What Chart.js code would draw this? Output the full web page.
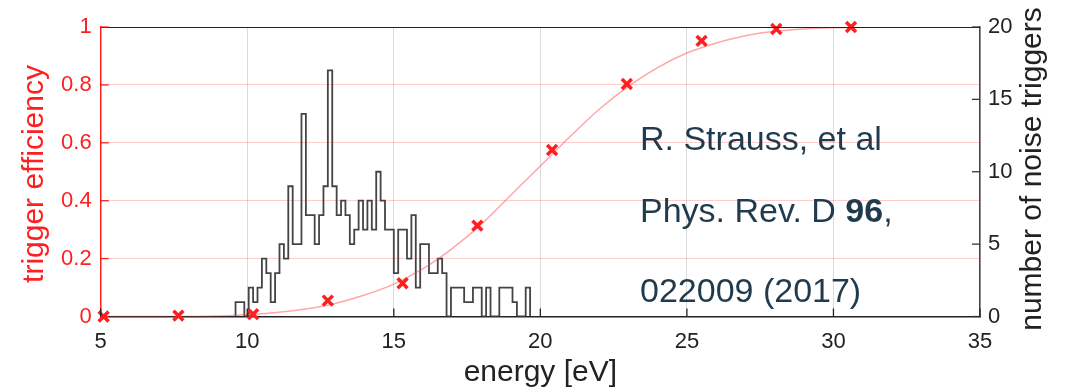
<!DOCTYPE html>
<html>
<head>
<meta charset="utf-8">
<script src="https://cdn.jsdelivr.net/npm/chart.js@4"></script>
<style>
  html, body { margin: 0; padding: 0; background: #ffffff; }
  #wrap { width: 1066px; height: 387px; }
</style>
</head>
<body>
<div id="wrap"><canvas id="c" width="1066" height="387"></canvas></div>
<script>
// ── DATA ────────────────────────────────────────────────────
// measured trigger efficiency (red crosses)
const effEnergy = [5.1, 7.65, 10.2, 12.75, 15.3, 17.85, 20.4, 22.95, 25.5, 28.05, 30.6];
const effValue  = [0, 0.003, 0.008, 0.055, 0.115, 0.314, 0.575, 0.803, 0.952, 0.993, 1.0];

// fitted efficiency curve (light red line)
const fitEnergy = [5, 7.5, 9, 10, 11, 12, 13, 14, 15, 16, 17, 18, 19, 20, 21, 22, 23, 24, 25, 26, 27, 28, 29, 30, 32, 35];
const fitValue  = [0, 0, 0.002, 0.006, 0.014, 0.026, 0.045, 0.074, 0.112, 0.165, 0.235, 0.32, 0.42, 0.52, 0.62, 0.715, 0.795, 0.86, 0.91, 0.945, 0.97, 0.985, 0.993, 0.997, 1, 1];

// noise trigger histogram (gray steps), bins of 0.15 eV from 9.6 eV
const histStart = 9.6;
const histWidth = 0.15;
const histCounts = [1, 1, 0, 2, 1, 2, 4, 3, 1, 3, 5, 4, 9, 5, 5, 14, 7, 7, 5, 7, 9, 17, 9, 7, 8, 7, 5, 6, 8, 6,
                    8, 6, 10, 8, 6, 6, 3, 6, 6, 4, 7, 2, 5, 5, 3, 3, 4, 3, 0, 2, 2, 2, 1, 1, 2, 2, 0, 2, 0, 0,
                    2, 2, 2, 1, 0, 0, 2];

const xTicks  = [5, 10, 15, 20, 25, 30, 35];
const yTicks  = [0, 0.2, 0.4, 0.6, 0.8, 1];
const y2Ticks = [0, 5, 10, 15, 20];

const refLines = ["R. Strauss, et al", "Phys. Rev. D ", "022009 (2017)"];

// ── BUILD POINTS ────────────────────────────────────────────
const histPoints = [{ x: histStart, y: 0 }];
histCounts.forEach((n, i) => histPoints.push({ x: histStart + i * histWidth, y: n }));
histPoints.push({ x: histStart + histCounts.length * histWidth, y: 0 });

const effPoints = effEnergy.map((e, i) => ({ x: e, y: effValue[i] }));
const fitPoints = fitEnergy.map((e, i) => ({ x: e, y: fitValue[i] }));

const FONT = '"Liberation Sans", Arial, sans-serif';
const RED = "#ff1f1f";

// ── DECORATION: inside ticks, box, axis titles, reference ──
const decorPlugin = {
  id: "decor",
  afterDraw(chart) {
    const { ctx, chartArea: a, scales } = chart;
    ctx.save();

    // top border
    ctx.strokeStyle = "#222";
    ctx.lineWidth = 1.2;
    ctx.beginPath();
    ctx.moveTo(a.left, a.top + 0.5);
    ctx.lineTo(a.right, a.top + 0.5);
    ctx.stroke();

    // inside tick marks
    const tick = (x1, y1, x2, y2, col) => {
      ctx.strokeStyle = col;
      ctx.beginPath();
      ctx.moveTo(x1, y1);
      ctx.lineTo(x2, y2);
      ctx.stroke();
    };
    ctx.lineWidth = 1.3;
    yTicks.forEach(v => {
      const py = scales.y.getPixelForValue(v);
      tick(a.left, py, a.left + 8, py, RED);
    });
    y2Ticks.forEach(v => {
      const py = scales.y2.getPixelForValue(v);
      tick(a.right, py, a.right - 8, py, "#333");
    });
    xTicks.forEach(v => {
      const px = scales.x.getPixelForValue(v);
      tick(px, a.bottom, px, a.bottom - 8, "#222");
    });

    // axis titles
    ctx.font = "30px " + FONT;
    ctx.textAlign = "center";
    ctx.textBaseline = "alphabetic";

    ctx.fillStyle = RED;
    ctx.save();
    ctx.translate(43, 174);
    ctx.rotate(-Math.PI / 2);
    ctx.fillText("trigger efficiency", 0, 0);
    ctx.restore();

    ctx.fillStyle = "#222";
    ctx.save();
    ctx.translate(1041, 169);
    ctx.rotate(-Math.PI / 2);
    ctx.fillText("number of noise triggers", 0, 0);
    ctx.restore();

    ctx.fillText("energy [eV]", scales.x.getPixelForValue(20), 381);

    // reference text
    ctx.textAlign = "left";
    ctx.fillStyle = "#1f3b4d";
    ctx.font = "34px " + FONT;
    ctx.fillText(refLines[0], 640, 150);
    ctx.fillText(refLines[1], 640, 222);
    const w = ctx.measureText(refLines[1]).width;
    ctx.font = "bold 34px " + FONT;
    ctx.fillText("96", 640 + w, 222);
    const w2 = ctx.measureText("96").width;
    ctx.font = "34px " + FONT;
    ctx.fillText(",", 640 + w + w2, 222);
    ctx.fillText(refLines[2], 640, 302);

    ctx.restore();
  }
};

// ── CHART ───────────────────────────────────────────────────
new Chart(document.getElementById("c"), {
  type: "line",
  data: {
    datasets: [
      {
        label: "noise triggers",
        data: histPoints,
        yAxisID: "y2",
        stepped: "before",
        borderColor: "#444",
        borderWidth: 1.8,
        pointRadius: 0,
        fill: false,
        order: 3
      },
      {
        label: "fit",
        data: fitPoints,
        yAxisID: "y",
        borderColor: "rgba(255,60,60,0.45)",
        borderWidth: 1.5,
        cubicInterpolationMode: "monotone",
        pointRadius: 0,
        fill: false,
        order: 2
      },
      {
        label: "trigger efficiency",
        data: effPoints,
        yAxisID: "y",
        showLine: false,
        pointStyle: "crossRot",
        pointRadius: 7,
        pointBorderWidth: 3.5,
        pointBorderColor: RED,
        pointBackgroundColor: RED,
        clip: false,
        order: 1
      }
    ]
  },
  options: {
    responsive: false,
    animation: false,
    events: [],
    layout: { padding: { top: 27, left: 0, right: 0, bottom: 0 } },
    plugins: { legend: { display: false }, tooltip: { enabled: false } },
    scales: {
      x: {
        type: "linear",
        position: "bottom",
        min: 5,
        max: 35,
        afterFit: s => { s.height = 70.5; },
        afterBuildTicks: s => { s.ticks = xTicks.map(v => ({ value: v })); },
        ticks: { autoSkip: false, maxRotation: 0, padding: 12, color: "#222", font: { family: FONT, size: 22 } },
        grid: { color: "rgba(0,0,0,0.14)", lineWidth: 1, drawTicks: false },
        border: { color: "#222", width: 1.5 }
      },
      y: {
        type: "linear",
        position: "left",
        min: 0,
        max: 1,
        afterFit: s => { s.width = 100.7; },
        afterBuildTicks: s => { s.ticks = yTicks.map(v => ({ value: v })); },
        ticks: {
          padding: 9,
          color: RED,
          font: { family: FONT, size: 22 },
          callback: v => String(+v.toFixed(1))
        },
        grid: { color: "rgba(255,0,0,0.2)", lineWidth: 1, drawTicks: false },
        border: { color: RED, width: 1.5 }
      },
      y2: {
        type: "linear",
        position: "right",
        min: 0,
        max: 20,
        afterFit: s => { s.width = 86; },
        afterBuildTicks: s => { s.ticks = y2Ticks.map(v => ({ value: v })); },
        ticks: { padding: 8, color: "#222", font: { family: FONT, size: 22 } },
        grid: { drawOnChartArea: false, drawTicks: false },
        border: { color: "#444", width: 1.5 }
      }
    }
  },
  plugins: [decorPlugin]
});
</script>
</body>
</html>
